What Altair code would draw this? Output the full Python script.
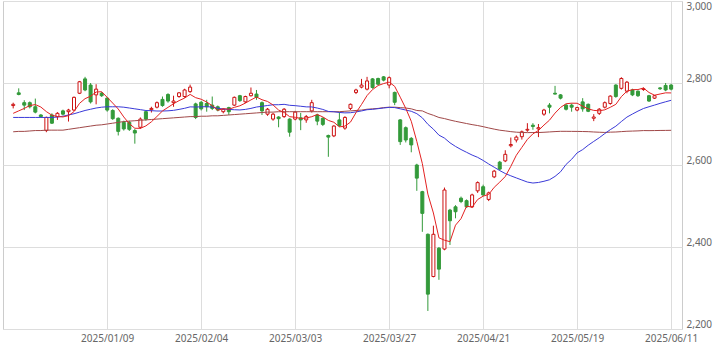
import altair as alt
import pandas as pd

# ---- data (daily candles, 120 sessions) ----
opens = [2745, 2776, 2752, 2752, 2742, 2722, 2684, 2722, 2718, 2732,
         2730, 2734, 2775, 2810, 2795, 2771, 2775, 2763, 2733, 2714,
         2704, 2704, 2684, 2692, 2730, 2735, 2741, 2760, 2772, 2752,
         2767, 2767, 2779, 2749, 2753, 2750, 2746, 2742, 2730, 2740,
         2746, 2769, 2754, 2769, 2773, 2752, 2724, 2712, 2717, 2718,
         2712, 2712, 2715, 2710, 2732, 2722, 2714, 2672, 2671, 2710,
         2690, 2738, 2777, 2790, 2785, 2810, 2811, 2815, 2795, 2777,
         2710, 2691, 2665, 2600, 2535, 2431, 2328, 2397, 2395, 2490,
         2498, 2519, 2513, 2498, 2537, 2547, 2516, 2571, 2607, 2610,
         2647, 2661, 2669, 2685, 2697, 2688, 2724, 2746, 2775, 2771,
         2746, 2746, 2734, 2754, 2748, 2714, 2726, 2741, 2750, 2795,
         2787, 2780, 2783, 2780, 2784, 2769, 2763, 2788, 2794, 2795]
highs = [2752, 2787, 2758, 2755, 2762, 2724, 2718, 2726, 2729, 2735,
         2737, 2767, 2805, 2815, 2800, 2797, 2778, 2766, 2736, 2716,
         2708, 2708, 2688, 2716, 2733, 2742, 2755, 2767, 2775, 2769,
         2778, 2786, 2796, 2752, 2756, 2759, 2767, 2745, 2738, 2742,
         2767, 2771, 2769, 2789, 2783, 2755, 2739, 2727, 2719, 2739,
         2714, 2732, 2727, 2722, 2759, 2725, 2716, 2674, 2697, 2729,
         2719, 2750, 2786, 2810, 2815, 2812, 2813, 2817, 2816, 2779,
         2712, 2694, 2668, 2603, 2537, 2433, 2452, 2400, 2545, 2493,
         2502, 2523, 2516, 2530, 2560, 2552, 2535, 2588, 2610, 2636,
         2667, 2672, 2684, 2702, 2702, 2700, 2737, 2751, 2793, 2773,
         2749, 2750, 2742, 2763, 2750, 2724, 2739, 2755, 2770, 2797,
         2814, 2805, 2786, 2782, 2789, 2771, 2771, 2790, 2800, 2798]
lows = [2738, 2770, 2734, 2738, 2726, 2715, 2680, 2700, 2710, 2721,
        2706, 2732, 2773, 2780, 2750, 2748, 2766, 2730, 2710, 2672,
        2684, 2683, 2652, 2688, 2708, 2728, 2738, 2742, 2752, 2742,
        2764, 2764, 2776, 2712, 2733, 2730, 2734, 2731, 2726, 2722,
        2744, 2754, 2751, 2767, 2759, 2722, 2720, 2708, 2692, 2715,
        2669, 2709, 2685, 2703, 2728, 2697, 2695, 2620, 2668, 2693,
        2686, 2734, 2773, 2787, 2782, 2786, 2795, 2804, 2787, 2746,
        2649, 2655, 2631, 2537, 2437, 2244, 2326, 2320, 2392, 2405,
        2470, 2507, 2495, 2495, 2532, 2524, 2512, 2568, 2587, 2607,
        2643, 2655, 2662, 2681, 2686, 2668, 2720, 2726, 2772, 2760,
        2733, 2730, 2731, 2730, 2729, 2707, 2722, 2738, 2747, 2764,
        2784, 2775, 2768, 2766, 2781, 2754, 2761, 2783, 2780, 2782]
closes = [2748, 2772, 2746, 2742, 2729, 2718, 2716, 2702, 2726, 2724,
          2734, 2765, 2803, 2783, 2754, 2785, 2769, 2734, 2713, 2682,
          2688, 2687, 2678, 2712, 2712, 2738, 2752, 2745, 2756, 2756,
          2776, 2783, 2790, 2716, 2737, 2742, 2738, 2734, 2736, 2730,
          2765, 2757, 2767, 2775, 2765, 2732, 2736, 2724, 2713, 2736,
          2680, 2729, 2710, 2718, 2752, 2707, 2699, 2668, 2695, 2696,
          2716, 2748, 2783, 2795, 2805, 2789, 2797, 2807, 2813, 2753,
          2657, 2661, 2649, 2568, 2482, 2285, 2431, 2346, 2539, 2464,
          2486, 2511, 2498, 2527, 2557, 2527, 2532, 2585, 2590, 2626,
          2650, 2668, 2681, 2687, 2694, 2691, 2734, 2741, 2773, 2763,
          2736, 2741, 2740, 2737, 2731, 2717, 2736, 2752, 2768, 2767,
          2811, 2802, 2771, 2769, 2786, 2756, 2769, 2786, 2783, 2785]

# moving-average values before enough sessions are on the chart
ma5_head = [2726, 2732, 2738, 2745]
ma25_head = [2716, 2716, 2716, 2716, 2716, 2716, 2716, 2716, 2717, 2719,
             2722, 2725, 2729, 2733, 2736, 2739, 2741, 2742, 2742, 2742,
             2741, 2739, 2737, 2735]
ma75_head = [2681, 2682, 2682, 2683, 2684, 2684, 2685, 2685, 2685, 2685,
             2687, 2689, 2691, 2693, 2695, 2697, 2698, 2700, 2702, 2704,
             2706, 2707, 2708, 2709, 2710, 2711, 2712, 2713, 2714, 2715,
             2716, 2717, 2718, 2718, 2719, 2719, 2720, 2720, 2721, 2722,
             2723, 2724, 2725, 2726, 2727, 2728, 2729, 2729, 2730, 2730,
             2730, 2730, 2730, 2730, 2730, 2730, 2730, 2730, 2730, 2730,
             2731, 2732, 2733, 2734, 2736, 2737, 2738, 2740, 2741, 2741,
             2740, 2739, 2737, 2733]

tick_idx = [17, 34, 51, 68, 85, 102, 119]
tick_labels = ["2025/01/09", "2025/02/04", "2025/03/03", "2025/03/27",
               "2025/04/21", "2025/05/19", "2025/06/11"]
y_ticks = [2200, 2400, 2600, 2800, 3000]

# ---- table ----
n = len(closes)
df = pd.DataFrame({"i": list(range(n)), "o": opens, "h": highs, "l": lows, "c": closes})
df["dir"] = ["up" if c >= o else "down" for o, c in zip(opens, closes)]
cs = pd.Series(closes, dtype=float)
ma5 = cs.rolling(5).mean().tolist()
ma25 = cs.rolling(25).mean().tolist()
ma75 = cs.rolling(75).mean().tolist()
ma5[:len(ma5_head)] = ma5_head
ma25[:len(ma25_head)] = ma25_head
ma75[:len(ma75_head)] = ma75_head
lines = pd.DataFrame({
    "i": list(range(n)) * 3,
    "v": ma75 + ma25 + ma5,
    "s": ["ma75"] * n + ["ma25"] * n + ["ma5"] * n,
})

RED = "#cc1111"
GREEN = "#339a3a"
FONT = "Noto Sans"
LABEL = "#666666"

label_expr = ("[" + ",".join("'%s'" % t for t in tick_labels) + "][indexof(["
              + ",".join(str(t) for t in tick_idx) + "], datum.value)]")

x_enc = alt.X("i:Q",
              scale=alt.Scale(domain=[-0.94, 120.06], nice=False, zero=False),
              axis=alt.Axis(values=tick_idx, labelExpr=label_expr, grid=True,
                            gridColor="#dddddd", ticks=False, domain=False, title=None,
                            labelColor=LABEL, labelFont=FONT, labelFontSize=10,
                            labelPadding=4, labelFlush=False))
y_scale = alt.Scale(domain=[2200, 3000], nice=False, zero=False)
y_axis = alt.Axis(orient="right", values=y_ticks,
                  labelExpr="format(datum.value, ',')", grid=True,
                  gridColor="#dddddd", ticks=False, domain=False, title=None,
                  labelColor=LABEL, labelFont=FONT, labelFontSize=10,
                  labelBaseline={"condition": {"test": "datum.value >= 3000", "value": "top"},
                                 "value": "bottom"},
                  labelAlign="left", labelPadding=4)

dir_scale_stroke = alt.Scale(domain=["up", "down"], range=[RED, GREEN])
dir_scale_fill = alt.Scale(domain=["up", "down"], range=["#ffffff", GREEN])

base = alt.Chart(df)
wicks = base.mark_rule(strokeWidth=1).encode(
    x=x_enc,
    y=alt.Y("l:Q", scale=y_scale, axis=y_axis),
    y2="h:Q",
    color=alt.Color("dir:N", scale=dir_scale_stroke, legend=None),
)
bodies = base.mark_bar(size=3, strokeWidth=1).encode(
    x=x_enc,
    y=alt.Y("o:Q", scale=y_scale, axis=y_axis),
    y2="c:Q",
    fill=alt.Fill("dir:N", scale=dir_scale_fill, legend=None),
    stroke=alt.Stroke("dir:N", scale=dir_scale_stroke, legend=None),
)
ma_lines = alt.Chart(lines).mark_line(strokeWidth=1).encode(
    x=x_enc,
    y=alt.Y("v:Q", scale=y_scale, axis=y_axis),
    detail="s:N",
    color=alt.Color("s:N", scale=alt.Scale(domain=["ma75", "ma25", "ma5"],
                                             range=["#a04848", "#3a3ad8", "#e32222"]),
                    legend=None),
    order=alt.Order("i:Q"),
)

chart = alt.layer(wicks, bodies, ma_lines).resolve_scale(
    color="independent"
).properties(
    width=679, height=328,
    autosize=alt.AutoSizeParams(type="none"),
    padding={"left": 3, "top": 1, "right": 37, "bottom": 23},
    background="#ffffff",
).configure_view(stroke="#cccccc", strokeWidth=1)

chart.save("out.html", embed_options={"renderer": "svg", "actions": False})
